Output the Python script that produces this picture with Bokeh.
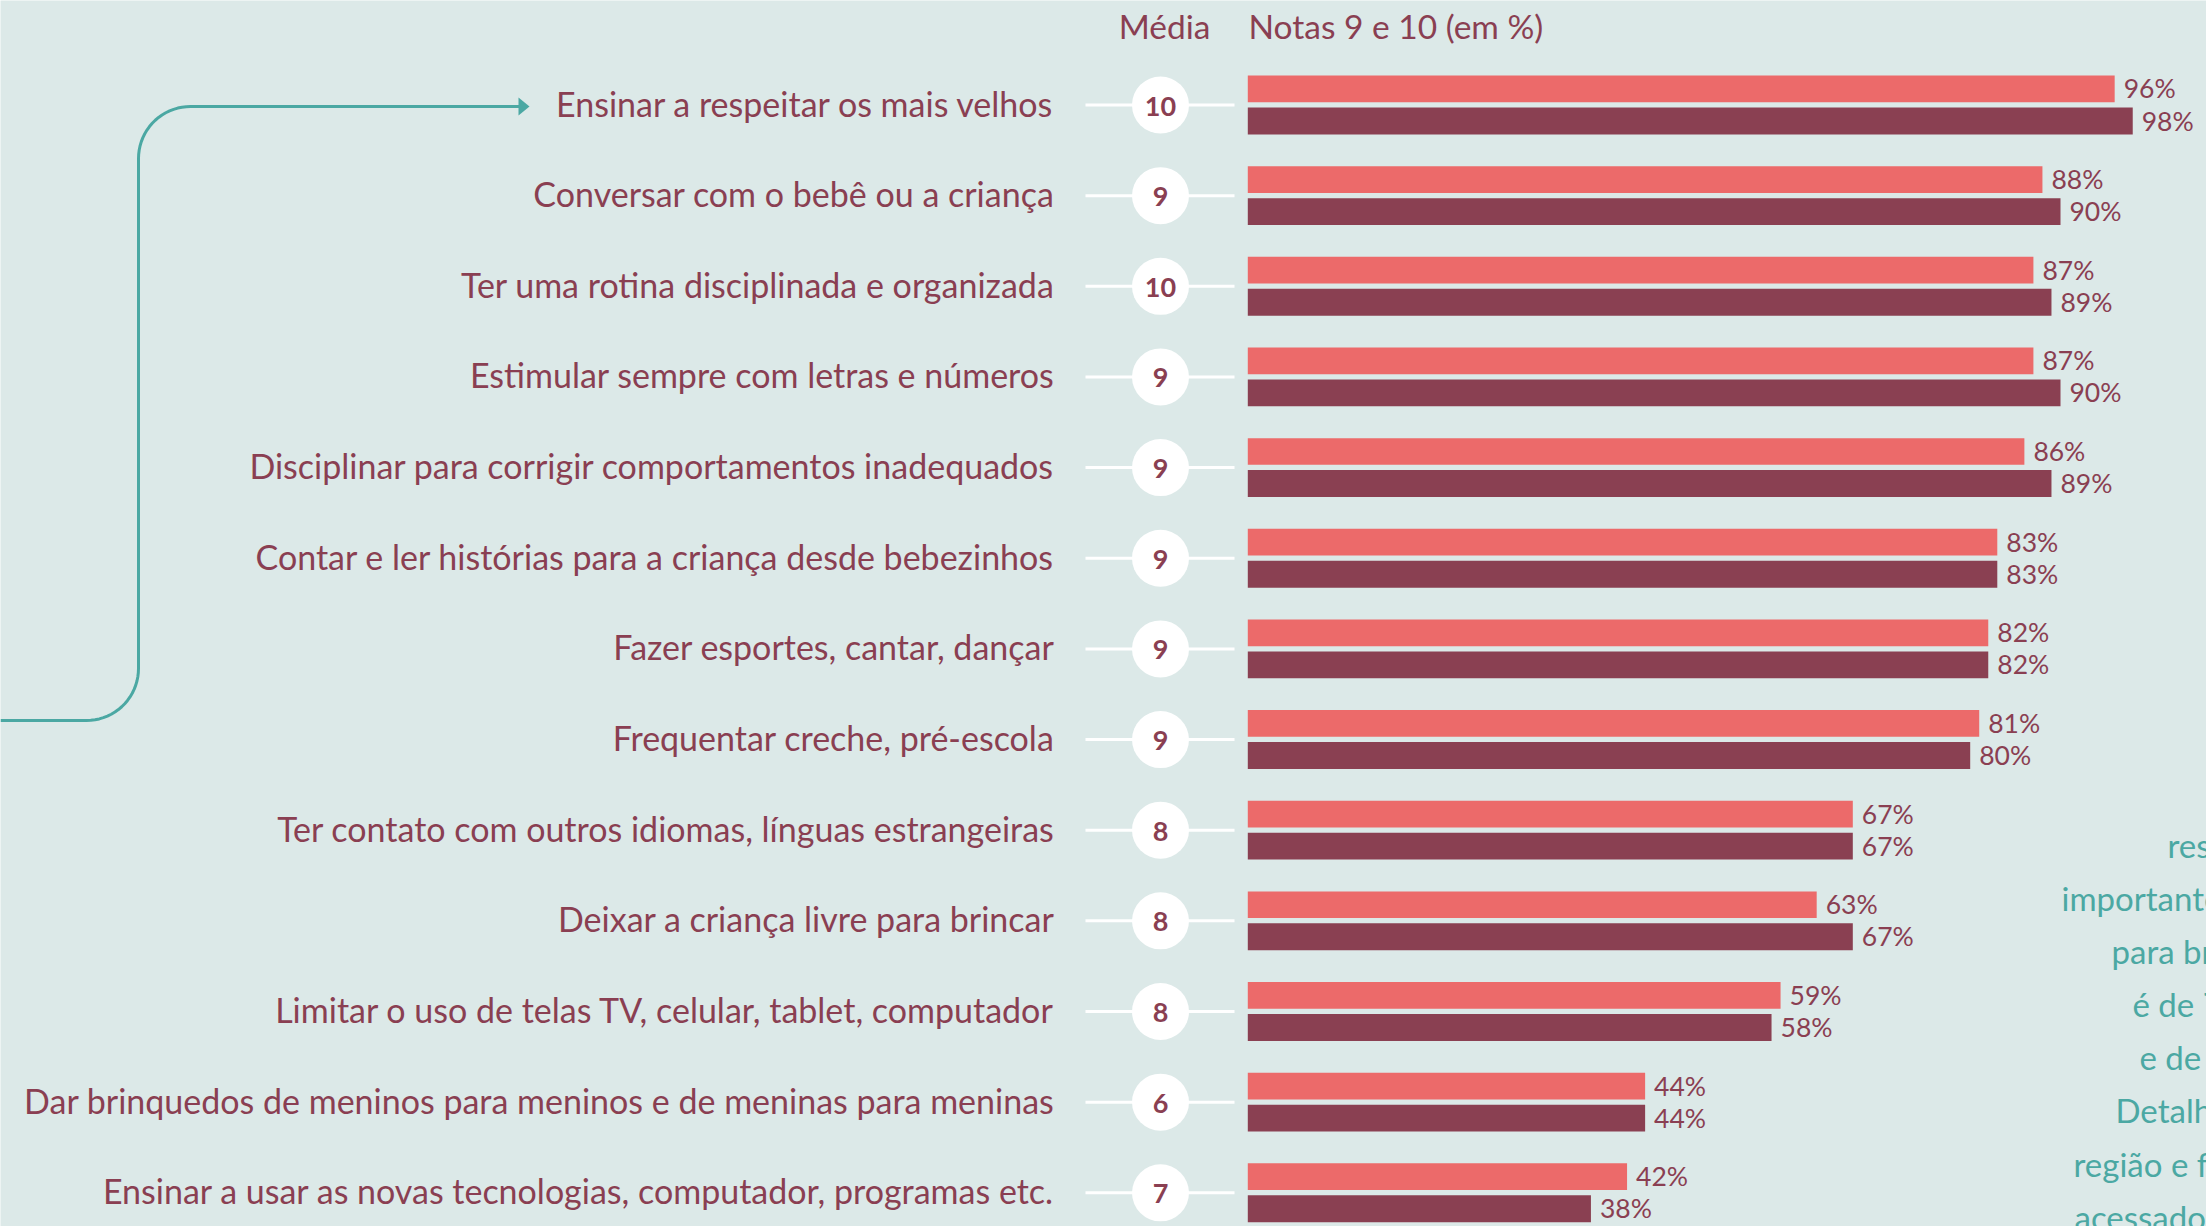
import numpy as np
from bokeh.plotting import figure
from bokeh.models import Range1d, ColumnDataSource
from bokeh.core.properties import value
from bokeh.embed import file_html
from bokeh.resources import INLINE

# ---------------- data ----------------
categories = [
    "Ensinar a respeitar os mais velhos",
    "Conversar com o bebê ou a criança",
    "Ter uma rotina disciplinada e organizada",
    "Estimular sempre com letras e números",
    "Disciplinar para corrigir comportamentos inadequados",
    "Contar e ler histórias para a criança desde bebezinhos",
    "Fazer esportes, cantar, dançar",
    "Frequentar creche, pré-escola",
    "Ter contato com outros idiomas, línguas estrangeiras",
    "Deixar a criança livre para brincar",
    "Limitar o uso de telas TV, celular, tablet, computador",
    "Dar brinquedos de meninos para meninos e de meninas para meninas",
    "Ensinar a usar as novas tecnologias, computador, programas etc.",
]
media = [10, 9, 10, 9, 9, 9, 9, 9, 8, 8, 8, 6, 7]
serie_a = [96, 88, 87, 87, 86, 83, 82, 81, 67, 63, 59, 44, 42]
serie_b = [98, 90, 89, 90, 89, 83, 82, 80, 67, 67, 58, 44, 38]

header_media = "Média"
header_notas = "Notas 9 e 10 (em %)"
side_text = ["res", "importante", "para br", "é de 7",
             "e de", "Detalh", "região e f", "acessados"]

# ---------------- style ----------------
BG = "#DCE9E8"
PINK = "#EC6A6A"
DARK = "#8A4052"
TEXT = "#8A3F52"
TEAL = "#4BA8A3"
FONT = value("Lato")

W, H = 2206, 1226
# pixel <-> data mapping (page pixels, figure at page origin)
PX0, PXU = 1247.3, 9.03
PY0, PYU = 104.5, 90.65
def X(px): return (px - PX0) / PXU
def Y(py): return (py - PY0) / PYU

n = len(categories)
idx = list(range(n))

p = figure(width=W, height=H,
           x_range=Range1d(X(0), X(W)), y_range=Range1d(Y(H), Y(0)),
           output_backend="svg", toolbar_location=None, min_border=0,
           x_axis_location=None, y_axis_location=None,
           background_fill_color=BG, border_fill_color=BG, outline_line_color=None)
p.grid.visible = False

src = ColumnDataSource(dict(
    y=idx,
    ya=[i - 16.1 / PYU for i in idx],
    yb=[i + 15.95 / PYU for i in idx],
    a=serie_a, b=serie_b,
    la=[f"{v}%" for v in serie_a], lb=[f"{v}%" for v in serie_b],
    xa=[v + 9 / PXU for v in serie_a], xb=[v + 9 / PXU for v in serie_b],
    tya=[i - 16.6 / PYU for i in idx],
    tyb=[i + 15.5 / PYU for i in idx],
    tl=[i - 2 / PYU for i in idx],
    tc=[i + 1 / PYU for i in idx],
    cat=categories, med=[str(m) for m in media],
))

# bars
p.hbar(y="ya", left=0, right="a", height=26.7 / PYU, fill_color=PINK, line_color=None, source=src)
p.hbar(y="yb", left=0, right="b", height=26.9 / PYU, fill_color=DARK, line_color=None, source=src)

# value labels
for xcol, ycol, tcol in (("xa", "tya", "la"), ("xb", "tyb", "lb")):
    p.text(x=xcol, y=ycol, text=tcol, source=src, text_font=FONT, text_font_size="26.5px",
           text_color=TEXT, text_baseline="middle", text_align="left")

# connectors + circles for the average
p.segment(x0=X(1085), x1=X(1234), y0="y", y1="y", line_color="white", line_width=3, source=src)
p.scatter(x=X(1160), y="y", size=57, marker="circle", fill_color="white", line_color=None, source=src)
p.text(x=X(1160), y="tc", text="med", source=src, text_font=FONT, text_font_size="27px",
       text_font_style="bold", text_color=TEXT, text_baseline="middle", text_align="center")

# category labels
p.text(x=X(1054), y="tl", text="cat", source=src, text_font=FONT, text_font_size="34px",
       text_color=TEXT, text_baseline="middle", text_align="right")

# headers
p.text(x=[X(1164)], y=[Y(25)], text=[header_media], text_font=FONT, text_font_size="33.5px",
       text_color=TEXT, text_baseline="middle", text_align="center")
p.text(x=[X(1248)], y=[Y(25)], text=[header_notas], text_font=FONT, text_font_size="33.5px",
       text_color=TEXT, text_baseline="middle", text_align="left")

# teal bracket arrow
t = np.linspace(0, np.pi / 2, 20)
r = 52
path_px = [(0, 720)]
path_px += [(86 + r * np.sin(a), 668 + r * np.cos(a)) for a in t]
path_px += [(190 - r * np.cos(a), 158 - r * np.sin(a)) for a in t]
path_px += [(520, 106)]
p.line(x=[X(a) for a, b in path_px], y=[Y(b) for a, b in path_px], line_color=TEAL, line_width=3)
head = [(518, 97), (529, 106), (518, 115)]
p.patch(x=[X(a) for a, b in head], y=[Y(b) for a, b in head], fill_color=TEAL, line_color=None)

# side text, partially visible at the right edge
side_x = [2167, 2061, 2111, 2132, 2139, 2115, 2073, 2074]
side_y = [844, 897, 950, 1003, 1056, 1109, 1163, 1216]
p.text(x=[X(v) for v in side_x], y=[Y(v) for v in side_y], text=side_text, text_font=FONT,
       text_font_size="33px", text_color=TEAL, text_baseline="middle", text_align="left")

open("out.html", "w").write(file_html(p, INLINE))
